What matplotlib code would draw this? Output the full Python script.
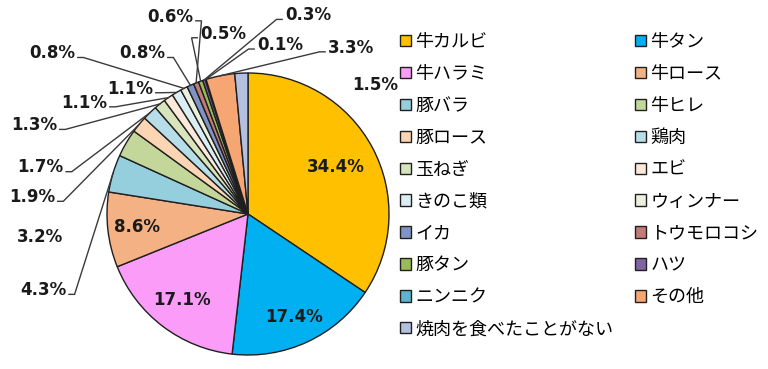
import matplotlib.pyplot as plt
import numpy as np

plt.rcParams['font.family'] = ['Noto Sans CJK JP', 'DejaVu Sans']

# 焼肉で一番好きな部位・食材 (%)
items = ['牛カルビ', '牛タン', '牛ハラミ', '牛ロース', '豚バラ', '牛ヒレ', '豚ロース', '鶏肉',
         '玉ねぎ', 'エビ', 'きのこ類', 'ウィンナー', 'イカ', 'トウモロコシ', '豚タン', 'ハツ',
         'ニンニク', 'その他', '焼肉を食べたことがない']
shares = [34.4, 17.4, 17.1, 8.6, 4.3, 3.2, 1.9, 1.7, 1.3, 1.1, 1.1, 0.8, 0.8, 0.6, 0.5, 0.3,
          0.1, 3.3, 1.5]
colors = ['#FFC000', '#00B0F0', '#FA9CF8', '#F4B183', '#95CFDD', '#C4D79B', '#FCD5B4', '#B7DEE8',
          '#D8E4BC', '#FDE9D9', '#DAEEF3', '#EBF1DE', '#7F93C4', '#C27B76', '#9BBB59', '#8064A2',
          '#5FB3CC', '#F5A673', '#B4C0E0']

# label anchor (x, y, ha, leader?) in pie radius units
label_pos = [
    (0.62, 0.33, 'center', False), (0.33, -0.73, 'center', False),
    (-0.47, -0.61, 'center', False), (-0.79, -0.09, 'center', False),
    (-1.29, -0.54, 'right', True), (-1.31, -0.16, 'right', False),
    (-1.37, 0.12, 'right', True), (-1.31, 0.33, 'right', True),
    (-1.355, 0.63, 'right', True), (-1.0, 0.79, 'right', True),
    (-0.674, 0.89, 'right', True), (-1.227, 1.14, 'right', True),
    (-0.589, 1.14, 'right', True), (-0.39, 1.40, 'right', True),
    (-0.34, 1.28, 'left', True), (0.262, 1.41, 'left', True),
    (0.064, 1.20, 'left', True), (0.567, 1.18, 'left', True),
    (0.738, 0.915, 'left', False)]

fig = plt.figure(figsize=(7.68, 3.69), dpi=100)
ax = fig.add_axes([107 / 768, (369 - 214 - 141) / 369, 282 / 768, 282 / 369])

wedges, _ = ax.pie(shares, colors=colors, startangle=90, counterclock=False, radius=1,
                   wedgeprops=dict(edgecolor='#1f1f1f', linewidth=1.0))
ax.set_xlim(-1, 1)
ax.set_ylim(-1, 1)
ax.set_aspect('equal')
ax.axis('off')

for w, v, (lx, ly, ha, leader) in zip(wedges, shares, label_pos):
    ax.text(lx, ly, f'{v}%', ha=ha, va='center', fontsize=12, fontweight='bold',
            family='DejaVu Sans', color='#1a1a1a', clip_on=False)
    if leader:
        mid = np.deg2rad((w.theta1 + w.theta2) / 2)
        ex, ey = np.cos(mid), np.sin(mid)
        sgn = 1 if ha == 'right' else -1
        x0 = lx + sgn * 0.02
        x1 = lx + sgn * 0.06
        ax.plot([x0, x1, ex], [ly - 0.03, ly - 0.03, ey], color='#3a3a3a', lw=1.0,
                clip_on=False, solid_joinstyle='miter')

order = list(range(0, len(items), 2)) + list(range(1, len(items), 2))
fig.legend([wedges[i] for i in order], [items[i] for i in order], loc='upper left',
           bbox_to_anchor=(400 / 768, 1 - 33 / 369), ncol=2, frameon=False, fontsize=13,
           handlelength=0.6, handleheight=0.6, handletextpad=0.25, labelspacing=0.77,
           columnspacing=1.2, borderpad=0, borderaxespad=0)

fig.savefig('out.png', dpi=100, facecolor='white')
